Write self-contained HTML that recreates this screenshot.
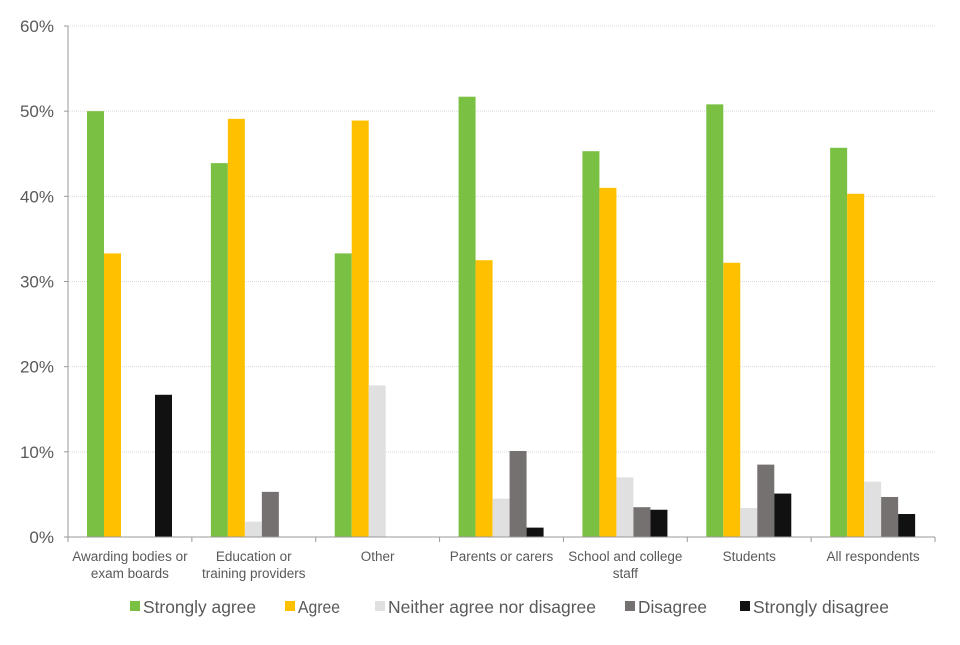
<!DOCTYPE html>
<html><head><meta charset="utf-8"><style>
body{margin:0;background:#fff;font-family:"Liberation Sans",sans-serif}
svg text{font-family:"Liberation Sans",sans-serif;fill:#595959}
</style></head><body>
<svg width="960" height="640" id="c"></svg>
<script>
const categories=[["Awarding bodies or","exam boards"],["Education or","training providers"],["Other"],["Parents or carers"],["School and college","staff"],["Students"],["All respondents"]];
const seriesNames=["Strongly agree","Agree","Neither agree nor disagree","Disagree","Strongly disagree"];
const stronglyAgree=[50,43.9,33.3,51.7,45.3,50.8,45.7];
const agree=[33.3,49.1,48.9,32.5,41.0,32.2,40.3];
const neither=[0,1.8,17.8,4.5,7.0,3.4,6.5];
const disagree=[0,5.3,0,10.1,3.5,8.5,4.7];
const stronglyDisagree=[16.7,0,0,1.1,3.2,5.1,2.7];
const yTicks=[0,10,20,30,40,50,60];
const colors=["#7ac143","#ffc000","#e0e0e0","#767171","#111111"];
const series=[stronglyAgree,agree,neither,disagree,stronglyDisagree];
const NS="http://www.w3.org/2000/svg",svg=document.getElementById('c');
const x0=68,x1=935,yb=537,yt=26;
const y=v=>yb-(v/60)*(yb-yt);
const gw=(x1-x0)/categories.length,bw=17,off=19;
function el(t,a,txt){const e=document.createElementNS(NS,t);for(const k in a)e.setAttribute(k,a[k]);if(txt!==undefined)e.textContent=txt;svg.appendChild(e);return e;}
yTicks.forEach(t=>{
 if(t>0){const g=el('line',{x1:x0,x2:x1,y1:y(t),y2:y(t),stroke:'#d9d9d9','stroke-dasharray':'1,1'});
 
 }
 const k=el('line',{x1:x0-4,x2:x0,y1:y(t),y2:y(t),stroke:'#999'});
 
 
 const l=el('text',{x:x0-14,y:y(t)+6,'text-anchor':'end','font-size':17},t+'%');
 
 
});
series.forEach((s,si)=>s.forEach((v,ci)=>{
 const bx=x0+ci*gw+off+si*bw;
 const r=el('rect',{x:bx,y:y(v),width:bw,height:yb-y(v),fill:colors[si]});
 
 
}));
const ax=el('line',{x1:x0,x2:x0,y1:yt,y2:yb,stroke:'#999'});


const xa=el('line',{x1:x0,x2:x1,y1:yb,y2:yb,stroke:'#999'});


for(let i=0;i<=categories.length;i++){
 const t=el('line',{x1:x0+i*gw,x2:x0+i*gw,y1:yb,y2:yb+5,stroke:'#999'});
 
 
}
categories.forEach((c,i)=>c.forEach((ln,j)=>{
 const t=el('text',{x:x0+(i+.5)*gw,y:561+j*17,'text-anchor':'middle','font-size':13.5},ln);
 
 
}));
const lx=[130,285,375,625,740];
const lw=[113,42,208,69,136];
seriesNames.forEach((n,i)=>{
 const r=el('rect',{x:lx[i],y:601,width:10,height:10,fill:colors[i]});
 
 
 const t=el('text',{x:lx[i]+13,y:613,'font-size':17.5,textLength:lw[i],lengthAdjust:'spacingAndGlyphs'},n);
 
 
});
</script>
</body></html>
